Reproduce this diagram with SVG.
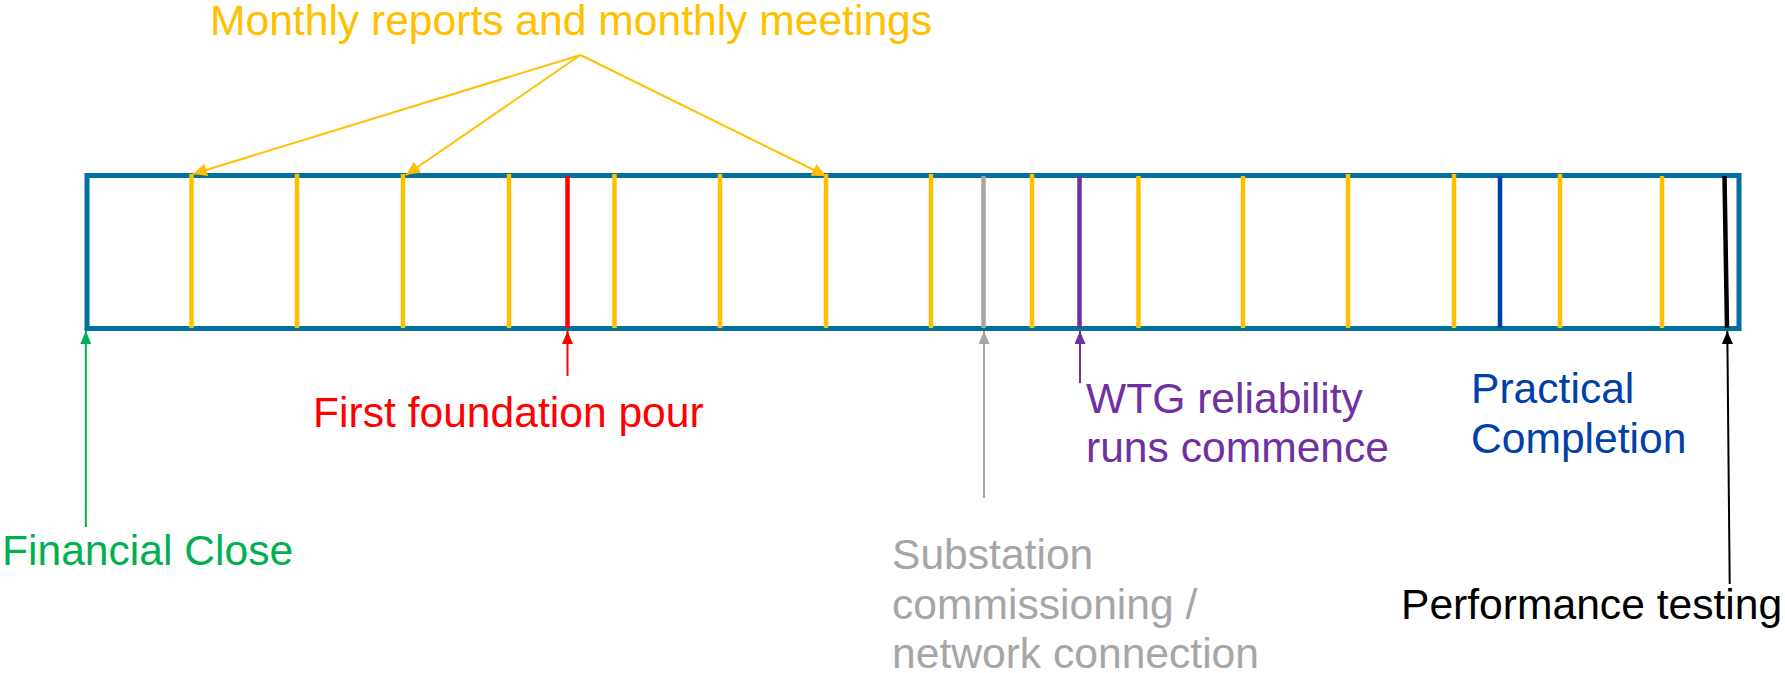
<svg xmlns="http://www.w3.org/2000/svg" width="1785" height="673" viewBox="0 0 1785 673">
  <style>
    text { font-family: "Liberation Sans", Arial, sans-serif; font-size: 42.6px; }
    .tick { stroke-width: 4.5; fill: none; }
    .y { stroke: #FFC000; }
    .conn { fill: none; stroke-width: 2; }
  </style>
  <defs>
    <marker id="ahY" markerUnits="userSpaceOnUse" viewBox="0 0 14 13" refX="14" refY="6.5" markerWidth="14" markerHeight="13" orient="auto">
      <path d="M0,0 L14,6.5 L0,13 z" fill="#FFC000"/>
    </marker>
    <marker id="ahG" markerUnits="userSpaceOnUse" viewBox="0 0 13 11" refX="13" refY="5.5" markerWidth="13" markerHeight="11" orient="auto">
      <path d="M0,0 L13,5.5 L0,11 z" fill="#00B050"/>
    </marker>
    <marker id="ahR" markerUnits="userSpaceOnUse" viewBox="0 0 13 11" refX="13" refY="5.5" markerWidth="13" markerHeight="11" orient="auto">
      <path d="M0,0 L13,5.5 L0,11 z" fill="#FF0000"/>
    </marker>
    <marker id="ahS" markerUnits="userSpaceOnUse" viewBox="0 0 13 11" refX="13" refY="5.5" markerWidth="13" markerHeight="11" orient="auto">
      <path d="M0,0 L13,5.5 L0,11 z" fill="#A6A6A6"/>
    </marker>
    <marker id="ahP" markerUnits="userSpaceOnUse" viewBox="0 0 13 11" refX="13" refY="5.5" markerWidth="13" markerHeight="11" orient="auto">
      <path d="M0,0 L13,5.5 L0,11 z" fill="#7030A0"/>
    </marker>
    <marker id="ahK" markerUnits="userSpaceOnUse" viewBox="0 0 13 11" refX="13" refY="5.5" markerWidth="13" markerHeight="11" orient="auto">
      <path d="M0,0 L13,5.5 L0,11 z" fill="#000000"/>
    </marker>
  </defs>
  <rect width="1785" height="673" fill="#FFFFFF"/>

  <g id="timeline">
    <rect x="87" y="175.5" width="1652" height="153" fill="none" stroke="#0070A0" stroke-width="5"/>
    <g id="monthly-ticks" class="tick y">
      <line x1="191.5" y1="174" x2="191.5" y2="328"/>
      <line x1="297" y1="174" x2="297" y2="328"/>
      <line x1="403" y1="174" x2="403" y2="328"/>
      <line x1="509" y1="174" x2="509" y2="328"/>
      <line x1="614.5" y1="174" x2="614.5" y2="328"/>
      <line x1="720" y1="174" x2="720" y2="328"/>
      <line x1="826" y1="174" x2="826" y2="328"/>
      <line x1="931" y1="174" x2="931" y2="328"/>
      <line x1="1032" y1="174" x2="1032" y2="328"/>
      <line x1="1138.5" y1="176" x2="1138.5" y2="328"/>
      <line x1="1243" y1="176" x2="1243" y2="328"/>
      <line x1="1348" y1="174" x2="1348" y2="328"/>
      <line x1="1454" y1="174" x2="1454" y2="328"/>
      <line x1="1560" y1="174" x2="1560" y2="328"/>
      <line x1="1662" y1="176" x2="1662" y2="328"/>
    </g>
    <line id="tick-foundation" class="tick" x1="567.5" y1="176" x2="567.5" y2="328" stroke="#FF0000"/>
    <line id="tick-substation" class="tick" x1="983.5" y1="176" x2="983.5" y2="328" stroke="#A6A6A6"/>
    <line id="tick-wtg" class="tick" x1="1079.5" y1="176" x2="1079.5" y2="328" stroke="#7030A0"/>
    <line id="tick-practical" class="tick" x1="1500" y1="176" x2="1500" y2="328" stroke="#0040A8"/>
    <line id="tick-performance" class="tick" x1="1724.5" y1="176" x2="1727" y2="328" stroke="#000000"/>
  </g>

  <g id="label-monthly">
    <text x="210" y="35" fill="#FFC000">Monthly reports and monthly meetings</text>
  </g>
  <g id="label-financial-close">
    <text x="2" y="565" fill="#00B050">Financial Close</text>
  </g>
  <g id="label-first-foundation">
    <text x="313" y="427" fill="#FF0000">First foundation pour</text>
  </g>
  <g id="label-substation">
    <text x="892" y="569" fill="#A6A6A6">Substation</text>
    <text x="892" y="619" fill="#A6A6A6">commissioning /</text>
    <text x="892" y="668" fill="#A6A6A6">network connection</text>
  </g>
  <g id="label-wtg">
    <text x="1086" y="413" fill="#7030A0">WTG reliability</text>
    <text x="1086" y="462" fill="#7030A0">runs commence</text>
  </g>
  <g id="label-practical">
    <text x="1471" y="403" fill="#0040A8">Practical</text>
    <text x="1471" y="453" fill="#0040A8">Completion</text>
  </g>
  <g id="label-performance">
    <text x="1401" y="619" fill="#000000">Performance testing</text>
  </g>

  <g id="connectors" class="conn">
    <line x1="580.5" y1="55" x2="193" y2="174" stroke="#FFC000" marker-end="url(#ahY)"/>
    <line x1="580.5" y1="55" x2="406" y2="175" stroke="#FFC000" marker-end="url(#ahY)"/>
    <line x1="580.5" y1="55" x2="826" y2="176" stroke="#FFC000" marker-end="url(#ahY)"/>
    <line x1="85.8" y1="527" x2="85.8" y2="331" stroke="#00B050" marker-end="url(#ahG)"/>
    <line x1="567.5" y1="376" x2="567.5" y2="331" stroke="#FF0000" marker-end="url(#ahR)"/>
    <line x1="984" y1="498" x2="984" y2="331" stroke="#A6A6A6" marker-end="url(#ahS)"/>
    <line x1="1080" y1="383" x2="1080" y2="331" stroke="#7030A0" marker-end="url(#ahP)"/>
    <line x1="1729.7" y1="584" x2="1727.3" y2="331" stroke="#000000" marker-end="url(#ahK)"/>
  </g>
</svg>
